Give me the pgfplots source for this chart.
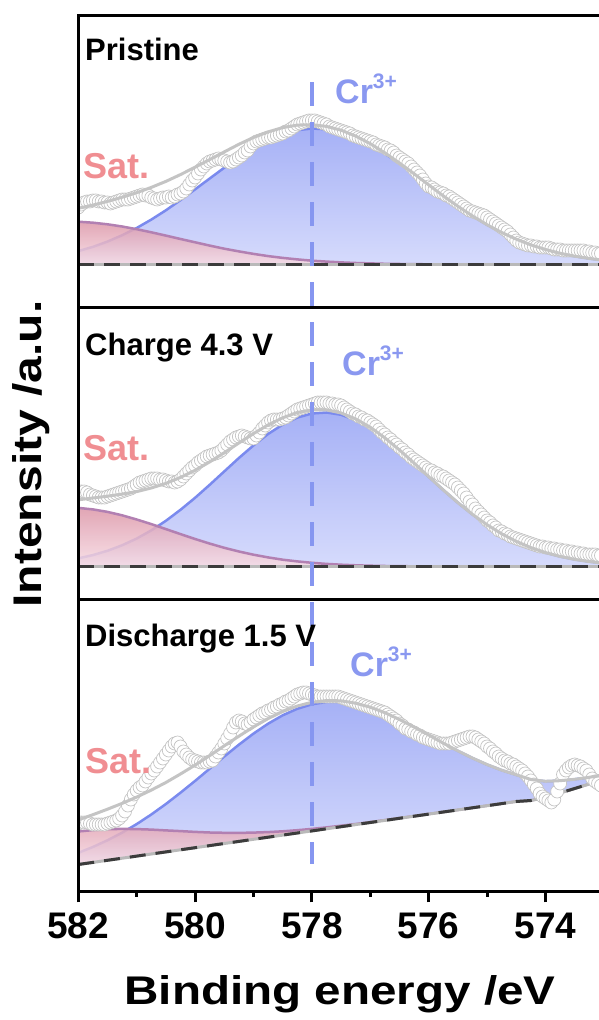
\documentclass[border=0pt]{standalone}
\usepackage{fontspec}
\setmainfont{Liberation Sans}
\usepackage{graphicx}
\usepackage{pgfplots}
\pgfplotsset{compat=1.18}
\usepackage{pgfplotstable}

\definecolor{blueline}{RGB}{122,138,238}
\definecolor{bluetop}{RGB}{166,177,246}
\definecolor{bluebot}{RGB}{214,219,252}
\definecolor{pinktop}{RGB}{220,150,168}
\definecolor{pinkbot}{RGB}{247,220,228}
\definecolor{satline}{RGB}{178,128,178}
\definecolor{sattext}{RGB}{240,142,146}
\definecolor{crtext}{RGB}{138,152,240}
\definecolor{vline}{RGB}{134,150,240}
\definecolor{fitgray}{RGB}{196,196,196}
\definecolor{circgray}{RGB}{196,196,196}
\definecolor{basedark}{RGB}{60,60,60}
\definecolor{baselight}{RGB}{185,185,185}

% Panel 1: x, blue peak, satellite, envelope (baseline 43)
\pgfplotstableread{
x blue sat fit
582.00 43 43 43
582.00 56.4 85.8 99.2
581.75 60.6 84.8 102.4
581.50 65.9 83.2 106.1
581.25 72.2 81.0 110.2
581.00 79.5 78.3 114.8
580.75 87.9 75.2 120.1
580.50 97.2 71.9 126.1
580.25 107.4 68.5 132.9
580.00 118.1 65.2 140.3
579.75 129.0 61.9 147.9
579.50 139.8 58.8 155.6
579.25 150.1 56.1 163.2
579.00 159.4 53.6 170.0
578.75 167.2 51.4 175.6
578.50 173.3 49.6 179.9
578.25 177.3 48.1 182.4
578.00 179.0 46.8 182.8
577.75 178.2 45.9 181.1
577.50 175.2 45.1 177.3
577.25 169.9 44.5 171.4
577.00 162.7 44.1 163.8
576.75 153.9 43.7 154.6
576.50 144.0 43.5 144.5
576.25 133.4 43.3 133.7
576.00 122.4 43.2 122.6
575.75 111.6 43.0 111.6
575.50 101.2 43.0 101.2
575.25 91.5 43.0 91.5
575.00 82.7 43.0 82.7
574.75 75.0 43.0 75.0
574.50 68.3 43.0 68.3
574.25 62.6 43.0 62.6
574.00 58.0 43.0 58.0
573.75 54.2 43.0 54.2
573.50 51.3 43.0 51.3
573.25 49.0 43.0 49.0
573.00 47.2 43.0 47.2
573.00 43 43 43
}\Pone

% Panel 2 (baseline 33)
\pgfplotstableread{
x blue sat fit
582.00 33 33 33
582.00 41.1 91.6 99.7
581.75 44.4 90.1 101.5
581.50 48.7 87.6 103.3
581.25 54.2 84.2 105.4
581.00 60.9 80.0 107.9
580.75 69.1 75.4 111.5
580.50 78.7 70.4 116.1
580.25 89.7 65.4 122.1
580.00 101.7 60.5 129.2
579.75 114.7 55.9 137.6
579.50 128.1 51.7 146.8
579.25 141.5 48.0 156.5
579.00 154.1 44.8 165.9
578.75 165.5 42.1 174.6
578.50 174.9 39.8 181.7
578.25 181.9 38.1 187.0
578.00 186.0 36.7 189.7
577.75 187.0 35.6 189.6
577.50 184.7 34.8 186.5
577.25 179.4 34.2 180.6
577.00 171.4 33.8 172.2
576.75 161.1 33.5 161.6
576.50 149.2 33.3 149.5
576.25 136.2 33.2 136.4
576.00 122.7 33.1 122.8
575.75 109.5 33 109.5
575.50 96.8 33 96.8
575.25 85.1 33 85.1
575.00 74.7 33 74.7
574.75 65.7 33 65.7
574.50 58.1 33 58.1
574.25 51.9 33 51.9
574.00 46.9 33 46.9
573.75 43.0 33 43.0
573.50 40.1 33 40.1
573.25 37.9 33 37.9
573.00 36.3 33 36.3
573.00 33 33 33
}\Ptwo

% Panel 3 (sloped background)
\pgfplotstableread{
x base blue sat fit
582.00 27.0 38.6 60.0 71.6
581.75 29.1 44.5 61.4 76.8
581.50 31.2 51.2 62.3 82.3
581.25 33.3 58.8 62.6 88.1
581.00 35.4 67.4 62.4 94.4
580.75 37.5 77.0 61.9 101.4
580.50 39.6 87.5 61.1 109.0
580.25 41.7 98.8 60.4 117.5
580.00 43.8 110.6 59.6 126.4
579.75 45.9 122.8 59.0 135.9
579.50 48.0 135.0 58.7 145.7
579.25 50.1 146.8 58.6 155.3
579.00 52.2 157.9 58.9 164.6
578.75 54.3 167.8 59.4 172.9
578.50 56.4 176.2 60.2 180.0
578.25 58.5 182.7 61.3 185.5
578.00 60.6 187.2 62.6 189.2
577.75 62.7 189.5 64.1 190.9
577.50 64.8 189.7 65.8 190.7
577.25 66.9 187.7 67.5 188.3
577.00 69.0 183.9 69.4 184.3
576.75 71.1 178.5 71.4 178.8
576.50 73.2 171.8 73.4 172.0
576.25 75.3 164.3 75.4 164.4
576.00 77.4 156.4 77.5 156.5
575.75 79.5 148.3 79.5 148.3
575.50 81.6 140.6 81.6 140.6
575.25 83.7 133.4 83.7 133.4
575.00 85.8 126.9 85.8 126.9
574.75 87.9 121.3 87.9 121.3
574.50 90.0 116.7 90.0 116.7
574.25 91.0 112.0 91.0 112.0
574.00 94.0 110.2 94.0 110.2
573.75 98.5 110.8 98.5 110.8
573.50 103.0 112.2 103.0 112.2
573.25 107.5 114.2 107.5 114.2
573.00 112.0 116.8 112.0 116.8
}\Pthree

\pgfplotstableread{
x y
582.00 100
581.95 103
581.90 105
581.85 106
581.80 106
581.75 107
581.70 107
581.65 106
581.60 106
581.55 105
581.50 105
581.45 104
581.40 105
581.35 106
581.30 107
581.25 108
581.20 108
581.15 108
581.10 109
581.05 110
581.00 111
580.95 112
580.90 113
580.85 112
580.80 112
580.75 110
580.70 109
580.65 108
580.60 109
580.55 110
580.50 110
580.45 111
580.40 110
580.35 111
580.30 113
580.25 114
580.20 116
580.15 119
580.10 123
580.05 127
580.00 130
579.95 134
579.90 138
579.85 141
579.80 144
579.75 146
579.70 147
579.65 148
579.60 149
579.55 148
579.50 147
579.45 146
579.40 145
579.35 146
579.30 148
579.25 150
579.20 152
579.15 155
579.10 157
579.05 161
579.00 164
578.95 166
578.90 167
578.85 168
578.80 169
578.75 170
578.70 170
578.65 171
578.60 172
578.55 173
578.50 174
578.45 176
578.40 177
578.35 179
578.30 181
578.25 183
578.20 184
578.15 185
578.10 186
578.05 187
578.00 187
577.95 187
577.90 186
577.85 185
577.80 184
577.75 183
577.70 181
577.65 180
577.60 179
577.55 178
577.50 177
577.45 176
577.40 175
577.35 174
577.30 172
577.25 171
577.20 170
577.15 169
577.10 168
577.05 167
577.00 166
576.95 165
576.90 163
576.85 162
576.80 161
576.75 160
576.70 158
576.65 157
576.60 155
576.55 152
576.50 150
576.45 148
576.40 146
576.35 144
576.30 141
576.25 138
576.20 135
576.15 132
576.10 128
576.05 124
576.00 121
575.95 120
575.90 118
575.85 116
575.80 115
575.75 114
575.70 112
575.65 111
575.60 109
575.55 107
575.50 105
575.45 103
575.40 101
575.35 99
575.30 97
575.25 96
575.20 95
575.15 94
575.10 93
575.05 92
575.00 90
574.95 88
574.90 86
574.85 84
574.80 82
574.75 80
574.70 78
574.65 76
574.60 73
574.55 70
574.50 67
574.45 65
574.40 64
574.35 63
574.30 62
574.25 62
574.20 61
574.15 61
574.10 60
574.05 60
574.00 60
573.95 60
573.90 59
573.85 58
573.80 58
573.75 58
573.70 57
573.65 57
573.60 57
573.55 57
573.50 57
573.45 57
573.40 57
573.35 57
573.30 56
573.25 56
573.20 55
573.15 55
573.10 54
573.05 54
}\Cone

\pgfplotstableread{
x y
582.00 108
581.95 108
581.90 108
581.85 107
581.80 105
581.75 104
581.70 103
581.65 102
581.60 102
581.55 102
581.50 103
581.45 104
581.40 105
581.35 106
581.30 107
581.25 108
581.20 109
581.15 110
581.10 111
581.05 113
581.00 115
580.95 117
580.90 118
580.85 119
580.80 120
580.75 121
580.70 121
580.65 121
580.60 120
580.55 120
580.50 119
580.45 118
580.40 118
580.35 117
580.30 118
580.25 120
580.20 123
580.15 126
580.10 129
580.05 132
580.00 134
579.95 137
579.90 139
579.85 141
579.80 143
579.75 144
579.70 145
579.65 146
579.60 147
579.55 149
579.50 152
579.45 155
579.40 158
579.35 160
579.30 162
579.25 163
579.20 164
579.15 163
579.10 162
579.05 161
579.00 161
578.95 164
578.90 167
578.85 171
578.80 174
578.75 177
578.70 179
578.65 180
578.60 180
578.55 180
578.50 181
578.45 182
578.40 184
578.35 186
578.30 188
578.25 190
578.20 191
578.15 192
578.10 193
578.05 194
578.00 195
577.95 196
577.90 197
577.85 197
577.80 197
577.75 197
577.70 196
577.65 196
577.60 195
577.55 195
577.50 194
577.45 192
577.40 190
577.35 188
577.30 186
577.25 185
577.20 183
577.15 182
577.10 180
577.05 179
577.00 177
576.95 175
576.90 173
576.85 170
576.80 167
576.75 165
576.70 162
576.65 160
576.60 157
576.55 155
576.50 152
576.45 150
576.40 147
576.35 145
576.30 142
576.25 140
576.20 138
576.15 136
576.10 134
576.05 132
576.00 130
575.95 129
575.90 127
575.85 126
575.80 124
575.75 123
575.70 121
575.65 119
575.60 117
575.55 115
575.50 112
575.45 109
575.40 106
575.35 102
575.30 98
575.25 95
575.20 91
575.15 88
575.10 85
575.05 82
575.00 79
574.95 77
574.90 74
574.85 72
574.80 69
574.75 68
574.70 66
574.65 65
574.60 63
574.55 62
574.50 61
574.45 60
574.40 59
574.35 58
574.30 57
574.25 56
574.20 55
574.15 54
574.10 53
574.05 53
574.00 52
573.95 52
573.90 51
573.85 51
573.80 50
573.75 50
573.70 49
573.65 49
573.60 48
573.55 48
573.50 47
573.45 47
573.40 46
573.35 46
573.30 45
573.25 45
573.20 45
573.15 45
573.10 44
573.05 44
}\Ctwo

\pgfplotstableread{
x y
582.00 68
581.95 69
581.90 69
581.85 69
581.80 68
581.75 67
581.70 67
581.65 67
581.60 67
581.55 67
581.50 68
581.45 69
581.40 70
581.35 71
581.30 73
581.25 76
581.20 80
581.15 86
581.10 92
581.05 97
581.00 101
580.95 104
580.90 106
580.85 110
580.80 114
580.75 118
580.70 121
580.65 125
580.60 129
580.55 133
580.50 137
580.45 141
580.40 145
580.35 148
580.30 149
580.25 145
580.20 140
580.15 137
580.10 134
580.05 132
580.00 131
579.95 130
579.90 129
579.85 129
579.80 129
579.75 130
579.70 131
579.65 135
579.60 139
579.55 143
579.50 148
579.45 153
579.40 158
579.35 164
579.30 169
579.25 171
579.20 170
579.15 168
579.10 167
579.05 169
579.00 172
578.95 174
578.90 176
578.85 178
578.80 179
578.75 181
578.70 182
578.65 184
578.60 185
578.55 187
578.50 188
578.45 190
578.40 191
578.35 193
578.30 195
578.25 197
578.20 198
578.15 199
578.10 199
578.05 198
578.00 197
577.95 196
577.90 195
577.85 195
577.80 195
577.75 195
577.70 195
577.65 195
577.60 195
577.55 195
577.50 194
577.45 193
577.40 192
577.35 191
577.30 190
577.25 189
577.20 188
577.15 187
577.10 186
577.05 185
577.00 184
576.95 183
576.90 182
576.85 181
576.80 180
576.75 179
576.70 177
576.65 175
576.60 173
576.55 171
576.50 168
576.45 166
576.40 163
576.35 162
576.30 160
576.25 159
576.20 157
576.15 156
576.10 154
576.05 153
576.00 152
575.95 151
575.90 150
575.85 149
575.80 148
575.75 148
575.70 148
575.65 148
575.60 149
575.55 150
575.50 151
575.45 152
575.40 153
575.35 154
575.30 155
575.25 155
575.20 154
575.15 152
575.10 150
575.05 148
575.00 145
574.95 143
574.90 140
574.85 138
574.80 135
574.75 133
574.70 131
574.65 130
574.60 128
574.55 127
574.50 125
574.45 123
574.40 121
574.35 118
574.30 115
574.25 111
574.20 107
574.15 103
574.10 98
574.05 95
574.00 93
573.95 91
573.90 89
573.85 92
573.80 100
573.75 108
573.70 117
573.65 121
573.60 124
573.55 126
573.50 127
573.45 126
573.40 125
573.35 123
573.30 121
573.25 117
573.20 113
573.15 110
573.10 108
573.05 106
}\Cthree

\pgfplotsset{
  panel/.style={
    width=522.7pt, height=292pt, scale only axis,
    xmin=573.05, xmax=582, ymin=0, ymax=292,
    x dir=reverse,
    axis line style={line width=3pt},
    ytick=\empty,
    axis on top,
    clip mode=individual,
    clip marker paths=true,
  },
  circ/.style={only marks, mark=*, mark size=6.5pt,
    mark options={fill=white, draw=circgray, line width=0.7pt}},
  bfill/.style={draw=none, top color=bluetop, bottom color=bluebot},
  sfill/.style={draw=none, top color=pinktop, bottom color=pinkbot, fill opacity=0.85},
  bline/.style={blueline, line width=2.5pt},
  sline/.style={satline, line width=2.5pt},
  fitl/.style={fitgray, line width=3pt},
  basel/.style={baselight, line width=3pt},
  based/.style={basedark, line width=3pt, dash pattern=on 16pt off 10pt},
}

\begin{document}
\begin{tikzpicture}
% ---------- Panel 1 : Pristine
\begin{axis}[panel, at={(78.3pt,712.5pt)}, anchor=south west, xtick=\empty]
\addplot[bfill] table[x=x,y=blue]{\Pone};
\addplot[bline] table[x=x,y=blue]{\Pone};
\addplot[sfill] table[x=x,y=sat]{\Pone};
\addplot[sline] table[x=x,y=sat]{\Pone};
\addplot[basel] coordinates {(582,43) (573,43)};
\addplot[based] coordinates {(582,43) (573,43)};
\addplot[circ] table[x=x,y=y]{\Cone};
\addplot[fitl] table[x=x,y=fit]{\Pone};
\end{axis}
% ---------- Panel 2 : Charge 4.3 V
\begin{axis}[panel, at={(78.3pt,420.5pt)}, anchor=south west, xtick=\empty]
\addplot[bfill] table[x=x,y=blue]{\Ptwo};
\addplot[bline] table[x=x,y=blue]{\Ptwo};
\addplot[sfill] table[x=x,y=sat]{\Ptwo};
\addplot[sline] table[x=x,y=sat]{\Ptwo};
\addplot[basel] coordinates {(582,33) (573,33)};
\addplot[based] coordinates {(582,33) (573,33)};
\addplot[circ] table[x=x,y=y]{\Ctwo};
\addplot[fitl] table[x=x,y=fit]{\Ptwo};
\end{axis}
% ---------- Panel 3 : Discharge 1.5 V
\begin{axis}[panel, at={(78.3pt,128.5pt)}, anchor=south west,
  xtick={574,576,578,580,582}, minor xtick={575,577,579,581},
  xtick pos=left, tick align=outside,
  major tick length=11pt, minor tick length=5.5pt,
  tick style={line width=3pt, black},
  /pgf/number format/assume math mode=true,
  xticklabel style={font=\fontsize{37}{37}\selectfont\bfseries, inner sep=0pt, anchor=north, yshift=-10pt},
]
\addplot[bfill] coordinates {
(582.00,38.6) (581.75,44.5) (581.50,51.2) (581.25,58.8) (581.00,67.4) (580.75,77.0)
(580.50,87.5) (580.25,98.8) (580.00,110.6) (579.75,122.8) (579.50,135.0) (579.25,146.8)
(579.00,157.9) (578.75,167.8) (578.50,176.2) (578.25,182.7) (578.00,187.2) (577.75,189.5)
(577.50,189.7) (577.25,187.7) (577.00,183.9) (576.75,178.5) (576.50,171.8) (576.25,164.3)
(576.00,156.4) (575.75,148.3) (575.50,140.6) (575.25,133.4) (575.00,126.9) (574.75,121.3)
(574.50,116.7) (574.25,112.0) (574.00,110.2) (573.75,110.8) (573.50,112.2) (573.25,114.2)
(573.00,116.8)
(573.00,112.0) (573.25,107.5) (573.50,103.0) (573.75,98.5) (574.00,94.0) (574.25,91.0)
(574.50,90.0) (582.00,27.0)};
\addplot[bline] table[x=x,y=blue]{\Pthree};
\addplot[sfill] coordinates {
(582.00,27.0)
(582.00,60.0) (581.75,61.4) (581.50,62.3) (581.25,62.6) (581.00,62.4) (580.75,61.9)
(580.50,61.1) (580.25,60.4) (580.00,59.6) (579.75,59.0) (579.50,58.7) (579.25,58.6)
(579.00,58.9) (578.75,59.4) (578.50,60.2) (578.25,61.3) (578.00,62.6) (577.75,64.1)
(577.50,65.8) (577.25,67.5) (577.00,69.4) (576.75,71.4) (576.50,73.4) (576.25,75.4)
(576.00,77.5) (576.00,77.4)};
\addplot[sline] table[x=x,y=sat]{\Pthree};
\addplot[basel] table[x=x,y=base]{\Pthree};
\addplot[based] table[x=x,y=base]{\Pthree};
\addplot[circ] table[x=x,y=y]{\Cthree};
\addplot[fitl] table[x=x,y=fit]{\Pthree};
\draw[vline, line width=4.5pt, dash pattern=on 24pt off 16pt] (axis cs:578,809) -- (axis cs:578,27);
\end{axis}

% ---------- texts
\node[anchor=base west, inner sep=0pt] at (85pt,959pt) {\fontsize{31}{31}\selectfont\bfseries Pristine};
\node[anchor=base west, inner sep=0pt] at (85pt,664pt) {\fontsize{31}{31}\selectfont\bfseries Charge 4.3 V};
\node[anchor=base west, inner sep=0pt] at (85pt,373pt) {\fontsize{31}{31}\selectfont\bfseries Discharge 1.5 V};

\node[anchor=base west, inner sep=0pt, text=crtext] at (335pt,916pt) {\fontsize{34}{34}\selectfont\bfseries Cr\raisebox{15pt}{\fontsize{21}{21}\selectfont 3+}};
\node[anchor=base west, inner sep=0pt, text=crtext] at (342pt,644pt) {\fontsize{34}{34}\selectfont\bfseries Cr\raisebox{15pt}{\fontsize{21}{21}\selectfont 3+}};
\node[anchor=base west, inner sep=0pt, text=crtext] at (350pt,343pt) {\fontsize{34}{34}\selectfont\bfseries Cr\raisebox{15pt}{\fontsize{21}{21}\selectfont 3+}};

\node[anchor=base west, inner sep=0pt, text=sattext] at (83pt,841pt) {\fontsize{36}{36}\selectfont\bfseries Sat.};
\node[anchor=base west, inner sep=0pt, text=sattext] at (83pt,559pt) {\fontsize{36}{36}\selectfont\bfseries Sat.};
\node[anchor=base west, inner sep=0pt, text=sattext] at (85pt,246pt) {\fontsize{36}{36}\selectfont\bfseries Sat.};

\node[anchor=base, inner sep=0pt] at (340pt,15pt) {\scalebox{1.19}[1]{\fontsize{40}{40}\selectfont\bfseries Binding energy /eV}};
\node[anchor=base, inner sep=0pt, rotate=90] at (42pt,566pt) {\scalebox{1.2}[1]{\fontsize{40}{40}\selectfont\bfseries Intensity /a.u.}};

\pgfresetboundingbox
\path[use as bounding box] (0,0) rectangle (598pt,1020pt);
\end{tikzpicture}
\end{document}
